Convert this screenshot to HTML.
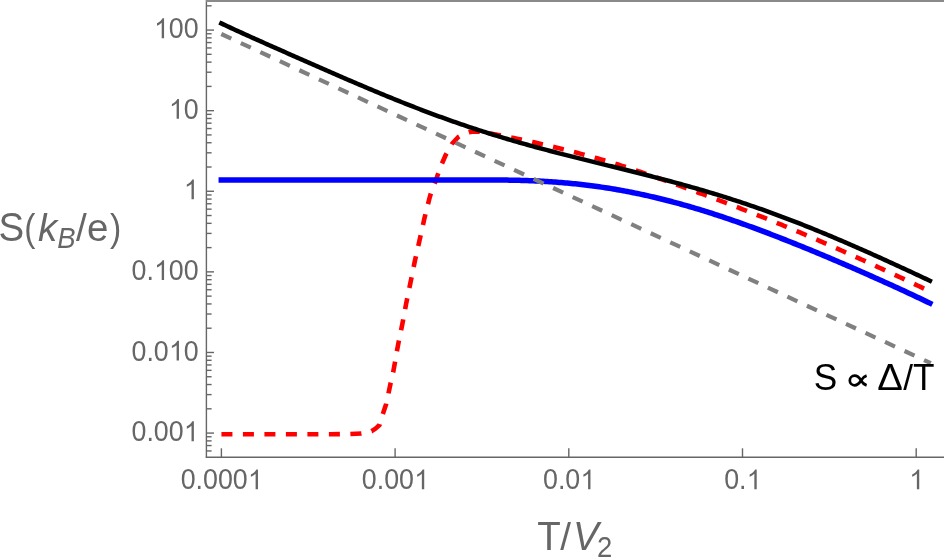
<!DOCTYPE html>
<html><head><meta charset="utf-8"><style>
html,body{margin:0;padding:0;background:#fff;}
svg{display:block;will-change:transform;}
text{font-family:"Liberation Sans",sans-serif;}
</style></head><body>
<svg width="944" height="557" viewBox="0 0 944 557">
<rect x="0" y="0" width="944" height="557" fill="#fff"/>
<g fill="none" stroke-linejoin="round">
<polyline points="221.00,434.30 260.00,434.30 300.00,434.30 330.00,434.20 350.00,434.00 361.30,433.50 371.60,431.20 375.50,428.60 379.50,425.00 382.70,414.50 386.10,404.20 388.60,392.80 390.70,382.80 393.20,372.10 395.10,361.60 397.00,350.70 398.90,340.60 402.30,324.30 406.20,303.40 410.50,282.50 414.80,261.30 419.60,240.10 424.50,218.00 429.80,197.00 431.30,192.00 435.10,182.40 437.60,175.30 441.40,164.80 445.80,154.80 452.00,143.80 458.30,137.00 464.00,133.60 469.00,132.10 474.00,131.50 480.00,131.60 490.00,133.47 492.00,133.83 494.00,134.20 496.00,134.57 498.00,134.94 500.00,135.32 502.00,135.71 504.00,136.09 506.00,136.48 508.00,136.88 510.00,137.28 512.00,137.68 514.00,138.09 516.00,138.50 518.00,138.92 520.00,139.34 522.00,139.76 524.00,140.18 526.00,140.61 528.00,141.05 530.00,141.49 532.00,141.93 534.00,142.37 536.00,142.82 538.00,143.27 540.00,143.73 542.00,144.19 544.00,144.65 546.00,145.12 548.00,145.59 550.00,146.06 552.00,146.54 554.00,147.02 556.00,147.50 558.00,147.99 560.00,148.48 562.00,148.98 564.00,149.48 566.00,149.98 568.00,150.49 570.00,151.00 572.00,151.51 574.00,152.03 576.00,152.55 578.00,153.08 580.00,153.61 582.00,154.15 584.00,154.69 586.00,155.23 588.00,155.78 590.00,156.33 592.00,156.89 594.00,157.45 596.00,158.01 598.00,158.58 600.00,159.16 602.00,159.74 604.00,160.33 606.00,160.92 608.00,161.51 610.00,162.11 612.00,162.72 614.00,163.33 616.00,163.95 618.00,164.57 620.00,165.20 622.00,165.83 624.00,166.47 626.00,167.11 628.00,167.76 630.00,168.42 632.00,169.08 634.00,169.74 636.00,170.41 638.00,171.08 640.00,171.76 642.00,172.44 644.00,173.12 646.00,173.81 648.00,174.50 650.00,175.20 652.00,175.90 654.00,176.60 656.00,177.30 658.00,178.01 660.00,178.72 662.00,179.43 664.00,180.15 666.00,180.86 668.00,181.58 670.00,182.30 672.00,183.02 674.00,183.75 676.00,184.47 678.00,185.20 680.00,185.92 682.00,186.65 684.00,187.37 686.00,188.10 688.00,188.83 690.00,189.56 692.00,190.29 694.00,191.02 696.00,191.75 698.00,192.49 700.00,193.22 702.00,193.96 704.00,194.69 706.00,195.43 708.00,196.17 710.00,196.91 712.00,197.65 714.00,198.40 716.00,199.14 718.00,199.89 720.00,200.64 722.00,201.39 724.00,202.14 726.00,202.90 728.00,203.66 730.00,204.42 732.00,205.18 734.00,205.94 736.00,206.71 738.00,207.47 740.00,208.24 742.00,209.02 744.00,209.79 746.00,210.57 748.00,211.35 750.00,212.13 752.00,212.91 754.00,213.70 756.00,214.49 758.00,215.28 760.00,216.07 762.00,216.87 764.00,217.67 766.00,218.47 768.00,219.27 770.00,220.08 772.00,220.89 774.00,221.70 776.00,222.51 778.00,223.33 780.00,224.15 782.00,224.97 784.00,225.80 786.00,226.62 788.00,227.45 790.00,228.29 792.00,229.12 794.00,229.96 796.00,230.80 798.00,231.64 800.00,232.48 802.00,233.33 804.00,234.18 806.00,235.03 808.00,235.89 810.00,236.74 812.00,237.60 814.00,238.46 816.00,239.33 818.00,240.19 820.00,241.06 822.00,241.93 824.00,242.80 826.00,243.68 828.00,244.56 830.00,245.43 832.00,246.32 834.00,247.20 836.00,248.08 838.00,248.97 840.00,249.86 842.00,250.75 844.00,251.64 846.00,252.54 848.00,253.43 850.00,254.33 852.00,255.23 854.00,256.13 856.00,257.04 858.00,257.94 860.00,258.85 862.00,259.76 864.00,260.67 866.00,261.58 868.00,262.49 870.00,263.40 872.00,264.32 874.00,265.24 876.00,266.15 878.00,267.07 880.00,267.99 882.00,268.92 884.00,269.84 886.00,270.77 888.00,271.69 890.00,272.62 892.00,273.55 894.00,274.48 896.00,275.41 898.00,276.34 900.00,277.28 902.00,278.21 904.00,279.15 906.00,280.09 908.00,281.02 910.00,281.97 912.00,282.91 914.00,283.85 916.00,284.80 918.00,285.74 920.00,286.69 922.00,287.64 924.00,288.59 926.00,289.54 929.90,291.41" stroke="#ff0000" stroke-width="4.6" stroke-dasharray="11 10.49" stroke-dashoffset="-0.43"/>
<polyline points="221.30,179.95 223.30,179.95 225.30,179.95 227.30,179.95 229.30,179.95 231.30,179.95 233.30,179.95 235.30,179.95 237.30,179.95 239.30,179.95 241.30,179.95 243.30,179.95 245.30,179.95 247.30,179.95 249.30,179.95 251.30,179.95 253.30,179.95 255.30,179.95 257.30,179.95 259.30,179.95 261.30,179.95 263.30,179.95 265.30,179.95 267.30,179.95 269.30,179.95 271.30,179.95 273.30,179.95 275.30,179.95 277.30,179.95 279.30,179.95 281.30,179.95 283.30,179.95 285.30,179.95 287.30,179.95 289.30,179.95 291.30,179.95 293.30,179.95 295.30,179.95 297.30,179.95 299.30,179.95 301.30,179.95 303.30,179.95 305.30,179.95 307.30,179.95 309.30,179.95 311.30,179.95 313.30,179.95 315.30,179.95 317.30,179.95 319.30,179.95 321.30,179.95 323.30,179.95 325.30,179.95 327.30,179.95 329.30,179.95 331.30,179.95 333.30,179.95 335.30,179.95 337.30,179.95 339.30,179.95 341.30,179.95 343.30,179.95 345.30,179.95 347.30,179.95 349.30,179.95 351.30,179.95 353.30,179.95 355.30,179.95 357.30,179.95 359.30,179.95 361.30,179.95 363.30,179.95 365.30,179.95 367.30,179.95 369.30,179.95 371.30,179.95 373.30,179.95 375.30,179.95 377.30,179.95 379.30,179.95 381.30,179.95 383.30,179.95 385.30,179.95 387.30,179.95 389.30,179.95 391.30,179.95 393.30,179.95 395.30,179.95 397.30,179.95 399.30,179.95 401.30,179.95 403.30,179.95 405.30,179.95 407.30,179.95 409.30,179.95 411.30,179.95 413.30,179.95 415.30,179.95 417.30,179.95 419.30,179.95 421.30,179.95 423.30,179.95 425.30,179.95 427.30,179.95 429.30,179.95 431.30,179.95 433.30,179.95 435.30,179.95 437.30,179.95 439.30,179.95 441.30,179.95 443.30,179.95 445.30,179.95 447.30,179.95 449.30,179.95 451.30,179.95 453.30,179.95 455.30,179.95 457.30,179.95 459.30,179.95 461.30,179.95 463.30,179.95 465.30,179.95 467.30,179.94 469.30,179.94 471.30,179.94 473.30,179.94 475.30,179.93 477.30,179.93 479.30,179.93 481.30,179.93 483.30,179.93 485.30,179.93 487.30,179.94 489.30,179.94 491.30,179.95 493.30,179.96 495.30,179.97 497.30,179.99 499.30,180.00 501.30,180.02 503.30,180.04 505.30,180.07 507.30,180.10 509.30,180.13 511.30,180.17 513.30,180.20 515.30,180.25 517.30,180.29 519.30,180.35 521.30,180.40 523.30,180.46 525.30,180.52 527.30,180.59 529.30,180.67 531.30,180.74 533.30,180.83 535.30,180.91 537.30,181.01 539.30,181.10 541.30,181.21 543.30,181.32 545.30,181.43 547.30,181.55 549.30,181.68 551.30,181.81 553.30,181.94 555.30,182.08 557.30,182.23 559.30,182.39 561.30,182.55 563.30,182.71 565.30,182.89 567.30,183.07 569.30,183.25 571.30,183.44 573.30,183.64 575.30,183.84 577.30,184.05 579.30,184.27 581.30,184.50 583.30,184.73 585.30,184.96 587.30,185.21 589.30,185.46 591.30,185.71 593.30,185.98 595.30,186.25 597.30,186.52 599.30,186.81 601.30,187.10 603.30,187.40 605.30,187.70 607.30,188.01 609.30,188.33 611.30,188.65 613.30,188.99 615.30,189.32 617.30,189.67 619.30,190.02 621.30,190.38 623.30,190.75 625.30,191.12 627.30,191.50 629.30,191.89 631.30,192.28 633.30,192.68 635.30,193.08 637.30,193.50 639.30,193.92 641.30,194.34 643.30,194.78 645.30,195.22 647.30,195.66 649.30,196.12 651.30,196.58 653.30,197.04 655.30,197.51 657.30,197.99 659.30,198.48 661.30,198.97 663.30,199.47 665.30,199.97 667.30,200.48 669.30,201.00 671.30,201.53 673.30,202.05 675.30,202.59 677.30,203.13 679.30,203.68 681.30,204.23 683.30,204.79 685.30,205.36 687.30,205.93 689.30,206.51 691.30,207.09 693.30,207.68 695.30,208.27 697.30,208.87 699.30,209.47 701.30,210.08 703.30,210.70 705.30,211.32 707.30,211.95 709.30,212.58 711.30,213.22 713.30,213.86 715.30,214.51 717.30,215.16 719.30,215.82 721.30,216.48 723.30,217.14 725.30,217.82 727.30,218.49 729.30,219.17 731.30,219.86 733.30,220.55 735.30,221.24 737.30,221.94 739.30,222.65 741.30,223.35 743.30,224.07 745.30,224.78 747.30,225.50 749.30,226.23 751.30,226.95 753.30,227.69 755.30,228.42 757.30,229.16 759.30,229.91 761.30,230.65 763.30,231.41 765.30,232.16 767.30,232.92 769.30,233.68 771.30,234.45 773.30,235.21 775.30,235.99 777.30,236.76 779.30,237.54 781.30,238.32 783.30,239.11 785.30,239.89 787.30,240.69 789.30,241.48 791.30,242.28 793.30,243.08 795.30,243.88 797.30,244.68 799.30,245.49 801.30,246.30 803.30,247.12 805.30,247.93 807.30,248.75 809.30,249.57 811.30,250.39 813.30,251.22 815.30,252.05 817.30,252.88 819.30,253.71 821.30,254.55 823.30,255.39 825.30,256.23 827.30,257.07 829.30,257.91 831.30,258.76 833.30,259.61 835.30,260.46 837.30,261.31 839.30,262.17 841.30,263.03 843.30,263.89 845.30,264.75 847.30,265.61 849.30,266.48 851.30,267.34 853.30,268.21 855.30,269.08 857.30,269.96 859.30,270.83 861.30,271.71 863.30,272.59 865.30,273.47 867.30,274.35 869.30,275.24 871.30,276.13 873.30,277.02 875.30,277.91 877.30,278.80 879.30,279.70 881.30,280.60 883.30,281.50 885.30,282.40 887.30,283.30 889.30,284.21 891.30,285.12 893.30,286.03 895.30,286.94 897.30,287.86 899.30,288.78 901.30,289.70 903.30,290.62 905.30,291.54 907.30,292.47 909.30,293.40 911.30,294.34 913.30,295.27 915.30,296.21 917.30,297.16 919.30,298.10 921.30,299.05 923.30,300.00 925.30,300.95 927.30,301.91 929.30,302.87 929.90,303.16" stroke="#0000ff" stroke-width="5.5" stroke-linecap="square"/>
<polyline points="221.30,34.00 930.80,363.21" stroke="#808080" stroke-width="4.2" stroke-dasharray="11 10.52"/>
<polyline points="221.30,23.41 223.30,24.35 225.30,25.29 227.30,26.23 229.30,27.16 231.30,28.09 233.30,29.01 235.30,29.93 237.30,30.85 239.30,31.76 241.30,32.67 243.30,33.58 245.30,34.49 247.30,35.39 249.30,36.29 251.30,37.19 253.30,38.09 255.30,38.99 257.30,39.88 259.30,40.78 261.30,41.67 263.30,42.56 265.30,43.45 267.30,44.34 269.30,45.23 271.30,46.12 273.30,47.00 275.30,47.89 277.30,48.78 279.30,49.66 281.30,50.55 283.30,51.43 285.30,52.31 287.30,53.20 289.30,54.08 291.30,54.96 293.30,55.84 295.30,56.73 297.30,57.61 299.30,58.49 301.30,59.37 303.30,60.25 305.30,61.13 307.30,62.01 309.30,62.89 311.30,63.76 313.30,64.64 315.30,65.52 317.30,66.40 319.30,67.27 321.30,68.15 323.30,69.02 325.30,69.90 327.30,70.77 329.30,71.64 331.30,72.51 333.30,73.38 335.30,74.25 337.30,75.12 339.30,75.99 341.30,76.86 343.30,77.72 345.30,78.58 347.30,79.45 349.30,80.31 351.30,81.17 353.30,82.02 355.30,82.88 357.30,83.73 359.30,84.59 361.30,85.44 363.30,86.29 365.30,87.13 367.30,87.98 369.30,88.82 371.30,89.66 373.30,90.50 375.30,91.34 377.30,92.17 379.30,93.00 381.30,93.83 383.30,94.66 385.30,95.48 387.30,96.30 389.30,97.12 391.30,97.94 393.30,98.75 395.30,99.56 397.30,100.36 399.30,101.17 401.30,101.97 403.30,102.77 405.30,103.56 407.30,104.35 409.30,105.14 411.30,105.92 413.30,106.70 415.30,107.48 417.30,108.25 419.30,109.02 421.30,109.79 423.30,110.55 425.30,111.31 427.30,112.07 429.30,112.82 431.30,113.56 433.30,114.31 435.30,115.05 437.30,115.78 439.30,116.52 441.30,117.24 443.30,117.97 445.30,118.69 447.30,119.40 449.30,120.11 451.30,120.82 453.30,121.53 455.30,122.23 457.30,122.92 459.30,123.61 461.30,124.30 463.30,124.98 465.30,125.66 467.30,126.34 469.30,127.01 471.30,127.67 473.30,128.34 475.30,129.00 477.30,129.65 479.30,130.30 481.30,130.95 483.30,131.59 485.30,132.23 487.30,132.86 489.30,133.49 491.30,134.12 493.30,134.74 495.30,135.36 497.30,135.97 499.30,136.58 501.30,137.19 503.30,137.79 505.30,138.39 507.30,138.99 509.30,139.58 511.30,140.17 513.30,140.75 515.30,141.33 517.30,141.91 519.30,142.48 521.30,143.05 523.30,143.62 525.30,144.18 527.30,144.75 529.30,145.30 531.30,145.86 533.30,146.41 535.30,146.96 537.30,147.50 539.30,148.04 541.30,148.58 543.30,149.12 545.30,149.66 547.30,150.19 549.30,150.72 551.30,151.24 553.30,151.77 555.30,152.29 557.30,152.81 559.30,153.33 561.30,153.84 563.30,154.36 565.30,154.87 567.30,155.38 569.30,155.89 571.30,156.39 573.30,156.90 575.30,157.40 577.30,157.90 579.30,158.40 581.30,158.90 583.30,159.40 585.30,159.90 587.30,160.40 589.30,160.89 591.30,161.39 593.30,161.88 595.30,162.37 597.30,162.87 599.30,163.36 601.30,163.85 603.30,164.34 605.30,164.83 607.30,165.32 609.30,165.82 611.30,166.31 613.30,166.80 615.30,167.29 617.30,167.78 619.30,168.28 621.30,168.77 623.30,169.26 625.30,169.76 627.30,170.25 629.30,170.75 631.30,171.25 633.30,171.75 635.30,172.25 637.30,172.75 639.30,173.25 641.30,173.75 643.30,174.26 645.30,174.77 647.30,175.27 649.30,175.78 651.30,176.30 653.30,176.81 655.30,177.33 657.30,177.85 659.30,178.37 661.30,178.89 663.30,179.41 665.30,179.94 667.30,180.47 669.30,181.00 671.30,181.54 673.30,182.08 675.30,182.62 677.30,183.16 679.30,183.71 681.30,184.26 683.30,184.81 685.30,185.37 687.30,185.92 689.30,186.49 691.30,187.05 693.30,187.62 695.30,188.19 697.30,188.77 699.30,189.35 701.30,189.93 703.30,190.52 705.30,191.10 707.30,191.70 709.30,192.30 711.30,192.90 713.30,193.50 715.30,194.11 717.30,194.72 719.30,195.34 721.30,195.96 723.30,196.58 725.30,197.21 727.30,197.85 729.30,198.48 731.30,199.12 733.30,199.77 735.30,200.42 737.30,201.07 739.30,201.73 741.30,202.39 743.30,203.06 745.30,203.73 747.30,204.40 749.30,205.08 751.30,205.76 753.30,206.45 755.30,207.14 757.30,207.84 759.30,208.54 761.30,209.24 763.30,209.95 765.30,210.67 767.30,211.38 769.30,212.10 771.30,212.83 773.30,213.56 775.30,214.29 777.30,215.03 779.30,215.78 781.30,216.52 783.30,217.27 785.30,218.03 787.30,218.79 789.30,219.55 791.30,220.32 793.30,221.09 795.30,221.86 797.30,222.64 799.30,223.42 801.30,224.21 803.30,225.00 805.30,225.80 807.30,226.59 809.30,227.40 811.30,228.20 813.30,229.01 815.30,229.82 817.30,230.64 819.30,231.46 821.30,232.28 823.30,233.11 825.30,233.94 827.30,234.77 829.30,235.60 831.30,236.44 833.30,237.29 835.30,238.13 837.30,238.98 839.30,239.83 841.30,240.69 843.30,241.54 845.30,242.40 847.30,243.27 849.30,244.13 851.30,245.00 853.30,245.87 855.30,246.74 857.30,247.62 859.30,248.50 861.30,249.38 863.30,250.26 865.30,251.15 867.30,252.03 869.30,252.92 871.30,253.82 873.30,254.71 875.30,255.61 877.30,256.51 879.30,257.41 881.30,258.31 883.30,259.21 885.30,260.12 887.30,261.03 889.30,261.94 891.30,262.85 893.30,263.76 895.30,264.68 897.30,265.59 899.30,266.51 901.30,267.43 903.30,268.35 905.30,269.28 907.30,270.20 909.30,271.13 911.30,272.06 913.30,272.99 915.30,273.92 917.30,274.86 919.30,275.79 921.30,276.73 923.30,277.67 925.30,278.61 927.30,279.55 929.30,280.50 929.90,280.78" stroke="#000" stroke-width="4.5" stroke-linecap="square"/>
</g>
<g stroke="#666666" stroke-width="1.4" fill="none">
<line x1="206.4" y1="0" x2="206.4" y2="457.9"/>
<line x1="205.8" y1="457.3" x2="944" y2="457.3"/>
<line x1="206.4" y1="433.07" x2="214" y2="433.07"/><line x1="206.4" y1="352.47" x2="214" y2="352.47"/><line x1="206.4" y1="271.87" x2="214" y2="271.87"/><line x1="206.4" y1="191.27" x2="214" y2="191.27"/><line x1="206.4" y1="110.67" x2="214" y2="110.67"/><line x1="206.4" y1="30.07" x2="214" y2="30.07"/><line x1="206.4" y1="450.95" x2="211.6" y2="450.95"/><line x1="206.4" y1="445.56" x2="211.6" y2="445.56"/><line x1="206.4" y1="440.88" x2="211.6" y2="440.88"/><line x1="206.4" y1="436.76" x2="211.6" y2="436.76"/><line x1="206.4" y1="408.81" x2="211.6" y2="408.81"/><line x1="206.4" y1="394.61" x2="211.6" y2="394.61"/><line x1="206.4" y1="384.54" x2="211.6" y2="384.54"/><line x1="206.4" y1="376.73" x2="211.6" y2="376.73"/><line x1="206.4" y1="370.35" x2="211.6" y2="370.35"/><line x1="206.4" y1="364.96" x2="211.6" y2="364.96"/><line x1="206.4" y1="360.28" x2="211.6" y2="360.28"/><line x1="206.4" y1="356.16" x2="211.6" y2="356.16"/><line x1="206.4" y1="328.21" x2="211.6" y2="328.21"/><line x1="206.4" y1="314.01" x2="211.6" y2="314.01"/><line x1="206.4" y1="303.94" x2="211.6" y2="303.94"/><line x1="206.4" y1="296.13" x2="211.6" y2="296.13"/><line x1="206.4" y1="289.75" x2="211.6" y2="289.75"/><line x1="206.4" y1="284.36" x2="211.6" y2="284.36"/><line x1="206.4" y1="279.68" x2="211.6" y2="279.68"/><line x1="206.4" y1="275.56" x2="211.6" y2="275.56"/><line x1="206.4" y1="247.61" x2="211.6" y2="247.61"/><line x1="206.4" y1="233.41" x2="211.6" y2="233.41"/><line x1="206.4" y1="223.34" x2="211.6" y2="223.34"/><line x1="206.4" y1="215.53" x2="211.6" y2="215.53"/><line x1="206.4" y1="209.15" x2="211.6" y2="209.15"/><line x1="206.4" y1="203.76" x2="211.6" y2="203.76"/><line x1="206.4" y1="199.08" x2="211.6" y2="199.08"/><line x1="206.4" y1="194.96" x2="211.6" y2="194.96"/><line x1="206.4" y1="167.01" x2="211.6" y2="167.01"/><line x1="206.4" y1="152.81" x2="211.6" y2="152.81"/><line x1="206.4" y1="142.74" x2="211.6" y2="142.74"/><line x1="206.4" y1="134.93" x2="211.6" y2="134.93"/><line x1="206.4" y1="128.55" x2="211.6" y2="128.55"/><line x1="206.4" y1="123.16" x2="211.6" y2="123.16"/><line x1="206.4" y1="118.48" x2="211.6" y2="118.48"/><line x1="206.4" y1="114.36" x2="211.6" y2="114.36"/><line x1="206.4" y1="86.41" x2="211.6" y2="86.41"/><line x1="206.4" y1="72.21" x2="211.6" y2="72.21"/><line x1="206.4" y1="62.14" x2="211.6" y2="62.14"/><line x1="206.4" y1="54.33" x2="211.6" y2="54.33"/><line x1="206.4" y1="47.95" x2="211.6" y2="47.95"/><line x1="206.4" y1="42.56" x2="211.6" y2="42.56"/><line x1="206.4" y1="37.88" x2="211.6" y2="37.88"/><line x1="206.4" y1="33.76" x2="211.6" y2="33.76"/><line x1="206.4" y1="5.81" x2="211.6" y2="5.81"/><line x1="221.40" y1="457.3" x2="221.40" y2="448.3"/><line x1="395.10" y1="457.3" x2="395.10" y2="448.3"/><line x1="568.80" y1="457.3" x2="568.80" y2="448.3"/><line x1="742.50" y1="457.3" x2="742.50" y2="448.3"/><line x1="916.20" y1="457.3" x2="916.20" y2="448.3"/>
</g>
<rect x="206" y="0" width="738" height="2" fill="#8a8a8a"/>
<g fill="#666666" font-size="26.8"><g transform="translate(153.88,38.17) scale(1,1.074)"><text x="0" y="0"> 00</text><path transform="translate(0.20,0) scale(0.01309,-0.01253)" d="M763,0L583,0L583,1147C540,1106 483,1065 413,1024C343,983 280,952 223,930L223,1104C323,1151 411,1208 486,1274C561,1340 614,1406 645,1472L763,1472Z"/></g><g transform="translate(168.79,118.77) scale(1,1.074)"><text x="0" y="0"> 0</text><path transform="translate(0.20,0) scale(0.01309,-0.01253)" d="M763,0L583,0L583,1147C540,1106 483,1065 413,1024C343,983 280,952 223,930L223,1104C323,1151 411,1208 486,1274C561,1340 614,1406 645,1472L763,1472Z"/></g><g transform="translate(183.69,199.37) scale(1,1.074)"><text x="0" y="0"> </text><path transform="translate(0.20,0) scale(0.01309,-0.01253)" d="M763,0L583,0L583,1147C540,1106 483,1065 413,1024C343,983 280,952 223,930L223,1104C323,1151 411,1208 486,1274C561,1340 614,1406 645,1472L763,1472Z"/></g><g transform="translate(131.53,279.97) scale(1,1.074)"><text x="0" y="0">0. 00</text><path transform="translate(22.55,0) scale(0.01309,-0.01253)" d="M763,0L583,0L583,1147C540,1106 483,1065 413,1024C343,983 280,952 223,930L223,1104C323,1151 411,1208 486,1274C561,1340 614,1406 645,1472L763,1472Z"/></g><g transform="translate(131.53,360.57) scale(1,1.074)"><text x="0" y="0">0.0 0</text><path transform="translate(37.45,0) scale(0.01309,-0.01253)" d="M763,0L583,0L583,1147C540,1106 483,1065 413,1024C343,983 280,952 223,930L223,1104C323,1151 411,1208 486,1274C561,1340 614,1406 645,1472L763,1472Z"/></g><g transform="translate(131.53,441.17) scale(1,1.074)"><text x="0" y="0">0.00 </text><path transform="translate(52.36,0) scale(0.01309,-0.01253)" d="M763,0L583,0L583,1147C540,1106 483,1065 413,1024C343,983 280,952 223,930L223,1104C323,1151 411,1208 486,1274C561,1340 614,1406 645,1472L763,1472Z"/></g><g transform="translate(180.71,489.30) scale(1,1.074)"><text x="0" y="0">0.000 </text><path transform="translate(67.27,0) scale(0.01309,-0.01253)" d="M763,0L583,0L583,1147C540,1106 483,1065 413,1024C343,983 280,952 223,930L223,1104C323,1151 411,1208 486,1274C561,1340 614,1406 645,1472L763,1472Z"/></g><g transform="translate(361.87,489.30) scale(1,1.074)"><text x="0" y="0">0.00 </text><path transform="translate(52.36,0) scale(0.01309,-0.01253)" d="M763,0L583,0L583,1147C540,1106 483,1065 413,1024C343,983 280,952 223,930L223,1104C323,1151 411,1208 486,1274C561,1340 614,1406 645,1472L763,1472Z"/></g><g transform="translate(543.02,489.30) scale(1,1.074)"><text x="0" y="0">0.0 </text><path transform="translate(37.45,0) scale(0.01309,-0.01253)" d="M763,0L583,0L583,1147C540,1106 483,1065 413,1024C343,983 280,952 223,930L223,1104C323,1151 411,1208 486,1274C561,1340 614,1406 645,1472L763,1472Z"/></g><g transform="translate(724.17,489.30) scale(1,1.074)"><text x="0" y="0">0. </text><path transform="translate(22.55,0) scale(0.01309,-0.01253)" d="M763,0L583,0L583,1147C540,1106 483,1065 413,1024C343,983 280,952 223,930L223,1104C323,1151 411,1208 486,1274C561,1340 614,1406 645,1472L763,1472Z"/></g><g transform="translate(909.05,489.30) scale(1,1.074)"><text x="0" y="0"> </text><path transform="translate(0.20,0) scale(0.01309,-0.01253)" d="M763,0L583,0L583,1147C540,1106 483,1065 413,1024C343,983 280,952 223,930L223,1104C323,1151 411,1208 486,1274C561,1340 614,1406 645,1472L763,1472Z"/></g></g>
<g fill="#666666"><g transform="translate(-1.45,240.90) scale(1.0,1.045)"><text x="0" y="0" font-size="38.5">S</text></g><g transform="translate(24.30,240.90) scale(0.87,1)"><text x="0" y="0" font-size="38.5">(</text></g><g transform="translate(38.06,240.90) scale(1.0,1)"><text x="0" y="0" font-size="38.5" font-style="italic">k</text></g><g transform="translate(57.20,247.90) scale(1.0,1.045)"><text x="0" y="0" font-size="27.5" font-style="italic">B</text></g><g transform="translate(76.10,240.90) scale(1.0,1)"><text x="0" y="0" font-size="38.5">/</text></g><g transform="translate(87.10,240.90) scale(1.0,1)"><text x="0" y="0" font-size="38.5">e</text></g><g transform="translate(110.00,240.90) scale(0.88,1)"><text x="0" y="0" font-size="38.5">)</text></g><g transform="translate(537.30,549.60) scale(1.0,1.045)"><text x="0" y="0" font-size="38.5">T</text></g><g transform="translate(560.30,549.60) scale(1.0,1)"><text x="0" y="0" font-size="38.5">/</text></g><g transform="translate(572.90,549.60) scale(1.0,1.045)"><text x="0" y="0" font-size="38.5" font-style="italic">V</text></g><g transform="translate(597.10,556.90) scale(1.0,1.045)"><text x="0" y="0" font-size="27.5">2</text></g></g>
<g fill="#000"><g transform="translate(813.80,389.60) scale(1.0,1.045)"><text x="0" y="0" font-size="35.2">S</text></g><g transform="translate(877.30,389.60) scale(1.09,1.045)"><text x="0" y="0" font-size="35.2">Δ</text></g><g transform="translate(903.30,389.60) scale(1.0,1)"><text x="0" y="0" font-size="35.2">/</text></g><g transform="translate(912.90,389.60) scale(1.0,1.045)"><text x="0" y="0" font-size="35.2">T</text></g>
<path d="M866.6,375.6 C863.6,376.6 862.2,378.4 861.0,380.5 C859.3,383.4 857.6,385.3 854.6,385.3 C851.9,385.3 849.8,383.2 849.8,380.5 C849.8,377.8 851.9,375.7 854.6,375.7 C857.6,375.7 859.3,377.6 861.0,380.5 C862.2,382.6 863.6,384.4 866.6,385.4" fill="none" stroke="#000" stroke-width="2.7"/>
</g>
</svg>
</body></html>
